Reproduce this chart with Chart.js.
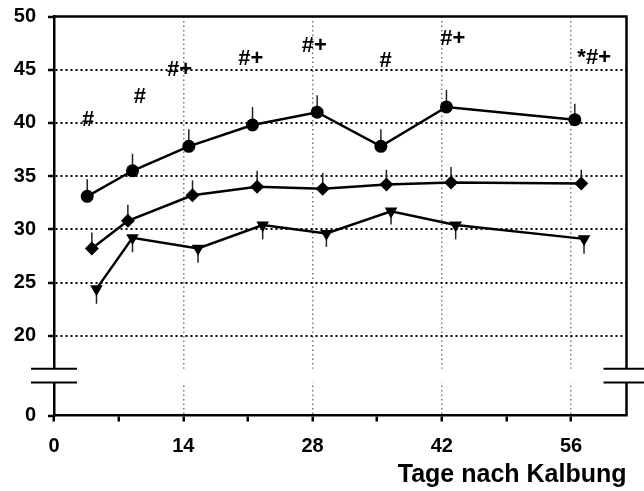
<!DOCTYPE html>
<html>
<head>
<meta charset="utf-8">
<script src="https://cdn.jsdelivr.net/npm/chart.js@4"></script>
<style>
  body { margin: 0; background: #fff; }
</style>
</head>
<body>
<canvas id="chart" width="644" height="491"></canvas>
<script>
// days after calving (series slightly shifted so the markers don't overlap)
const circleDays = [3.6, 8.5, 14.6, 21.5, 28.5, 35.4, 42.5, 56.4];
const circleValues = [33.1, 35.5, 37.8, 39.8, 41.0, 37.8, 41.5, 40.3];
const circleErr = [1.6, 1.6, 1.6, 1.7, 1.6, 1.6, 1.6, 1.5];

const diamondDays = [4.1, 8.0, 15.0, 22.0, 29.1, 36.0, 43.0, 57.1];
const diamondValues = [28.2, 30.8, 33.2, 34.0, 33.8, 34.2, 34.4, 34.3];
const diamondErr = [1.5, 1.5, 1.4, 1.5, 1.5, 1.4, 1.45, 1.3];

const triangleDays = [4.6, 8.5, 15.6, 22.6, 29.5, 36.5, 43.5, 57.4];
const triangleValues = [24.4, 29.2, 28.2, 30.4, 29.6, 31.7, 30.4, 29.1];
const triangleErr = [1.4, 1.35, 1.35, 1.35, 1.25, 1.25, 1.35, 1.4];

// significance marks above the curves
const sigLabels = ['#', '#', '#+', '#+', '#+', '#', '#+', '*#+'];
const sigDays = [3.7, 9.3, 13.6, 21.3, 28.2, 35.9, 43.2, 58.5];
const sigValues = [40.3, 42.4, 45.0, 46.0, 47.2, 45.8, 47.9, 46.1];

const xTicks = [0, 7, 14, 21, 28, 35, 42, 49, 56];
const yTicks = [20, 25, 30, 35, 40, 45, 50];
const yBottom = 12.5;          // broken axis: the bottom is labelled 0
const breakHigh = 16.9, breakLow = 15.6;

const fontFamily = '"Liberation Sans", Arial, sans-serif';

const toPoints = (xs, ys) => xs.map((d, i) => ({ x: d, y: ys[i] }));

    // Error bars (one direction only)
const errorBars = {
    id: 'errorBars',
    beforeDatasetsDraw(chart) {
        const { ctx, scales: { x, y } } = chart;
        ctx.save();
        ctx.strokeStyle = '#222';
        ctx.lineWidth = 1.5;
        chart.data.datasets.forEach(ds => {
            ds.data.forEach((p, i) => {
                const px = x.getPixelForValue(p.x);
                ctx.beginPath();
                ctx.moveTo(px, y.getPixelForValue(p.y));
                ctx.lineTo(px, y.getPixelForValue(p.y + ds.errDir * ds.errors[i]));
                ctx.stroke();
            });
        });
        ctx.restore();
    }
};

    // Frame, axis break and significance marks
const frame = {
    id: 'frame',
    afterDraw(chart) {
        const { ctx, chartArea: a, scales: { x, y } } = chart;
        ctx.save();
        ctx.strokeStyle = '#000';
        ctx.lineWidth = 2.5;
        ctx.beginPath();
        ctx.moveTo(a.left, a.top);
        ctx.lineTo(a.right, a.top);
        ctx.lineTo(a.right, a.bottom);
        ctx.stroke();

        const yHi = y.getPixelForValue(breakHigh);
        const yLo = y.getPixelForValue(breakLow);
        ctx.fillStyle = '#fff';
        ctx.fillRect(a.left - 4, yHi, a.right - a.left + 8, yLo - yHi);
        ctx.lineWidth = 2;
        [a.left, a.right].forEach(ax => {
            [yHi, yLo].forEach(yy => {
                ctx.beginPath();
                ctx.moveTo(ax - 23, yy);
                ctx.lineTo(ax + 23, yy);
                ctx.stroke();
            });
        });

        ctx.fillStyle = '#000';
        ctx.font = 'bold 22px ' + fontFamily;
        ctx.textAlign = 'center';
        ctx.textBaseline = 'middle';
        sigLabels.forEach((t, i) => {
            ctx.fillText(t, x.getPixelForValue(sigDays[i]), y.getPixelForValue(sigValues[i]));
        });
        ctx.restore();
    }
};

const lineStyle = {
    borderColor: '#000',
    backgroundColor: '#000',
    pointBackgroundColor: '#000',
    pointBorderColor: '#000',
    pointBorderWidth: 0,
    borderWidth: 2.5,
    tension: 0
};

const chart = document.getElementById('chart').getContext('2d');

new Chart(chart, {
    type: 'line',
    data: {
        datasets: [
            {
                ...lineStyle,
                data: toPoints(circleDays, circleValues),
                errors: circleErr, errDir: 1,
                pointStyle: 'circle', pointRadius: 6.5
            },
            {
                ...lineStyle,
                data: toPoints(diamondDays, diamondValues),
                errors: diamondErr, errDir: 1,
                pointStyle: 'rectRot', pointRadius: 7
            },
            {
                ...lineStyle,
                data: toPoints(triangleDays, triangleValues),
                errors: triangleErr, errDir: -1,
                pointStyle: 'triangle', pointRotation: 180, pointRadius: 7.3
            }
        ]
    },
    options: {
        responsive: false,
        animation: false,
        layout: { padding: { top: 16.5, right: 17.5, left: 0, bottom: 0 } },
        plugins: { legend: { display: false }, tooltip: { enabled: false } },
        scales: {
            x: {
                type: 'linear', min: 0, max: 62,
                afterBuildTicks: s => { s.ticks = xTicks.map(v => ({ value: v })); },
                afterFit: s => { s.height = 75.5; },
                ticks: {
                    autoSkip: false, maxRotation: 0, padding: 13, color: '#000',
                    font: { family: fontFamily, size: 20, weight: 'bold' },
                    callback: v => (v % 14 === 0 ? v : '')
                },
                grid: {
                    color: c => (c.tick && c.tick.value % 14 === 0 && c.tick.value > 0) ? '#7a7a7a' : 'rgba(0,0,0,0)',
                    lineWidth: 1.5, tickLength: 6, tickColor: '#000', tickWidth: 2.5
                },
                border: { color: '#000', width: 2.5, dash: [1.5, 3] },
                title: {
                    display: true, text: 'Tage nach Kalbung', align: 'end', color: '#000',
                    font: { family: fontFamily, size: 25, weight: 'bold' },
                    padding: { top: 0, bottom: 1 }
                }
            },
            y: {
                type: 'linear', min: yBottom, max: 50,
                afterBuildTicks: s => { s.ticks = [yBottom, ...yTicks].map(v => ({ value: v })); },
                afterFit: s => { s.width = 54; },
                ticks: {
                    padding: 12, color: '#000',
                    // small lineHeight keeps the top label from pushing the plot down
                    font: { family: fontFamily, size: 20, weight: 'bold', lineHeight: 0.4 },
                    callback: v => (v === yBottom ? '0' : v)
                },
                grid: {
                    color: c => (c.tick && c.tick.value >= 20 && c.tick.value <= 45) ? '#000' : 'rgba(0,0,0,0)',
                    lineWidth: 2, tickLength: 6, tickColor: '#000', tickWidth: 2.5
                },
                border: { color: '#000', width: 2.5, dash: [2, 3] }
            }
        }
    },
    plugins: [errorBars, frame]
});
</script>
</body>
</html>
